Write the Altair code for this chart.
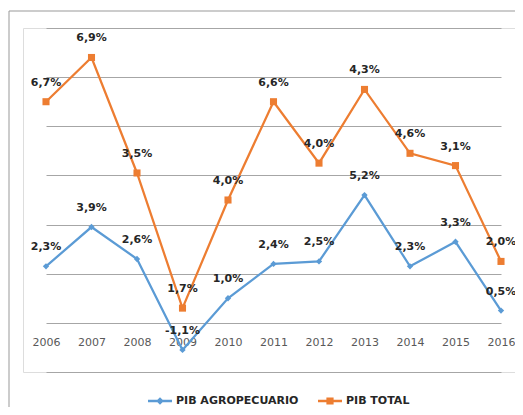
import altair as alt
import pandas as pd

years = ["2006", "2007", "2008", "2009", "2010", "2011", "2012", "2013", "2014", "2015", "2016"]
series = ["PIB AGROPECUARIO", "PIB TOTAL"]
# plotted positions (in %, grid step 2)
agro_values = [2.3, 3.9, 2.6, -1.1, 1.0, 2.4, 2.5, 5.2, 2.3, 3.3, 0.5]
total_values = [9.0, 10.8, 6.1, 0.6, 5.0, 9.0, 6.5, 9.5, 6.9, 6.4, 2.5]
# printed data labels
agro_labels = ["2,3%", "3,9%", "2,6%", "-1,1%", "1,0%", "2,4%", "2,5%", "5,2%", "2,3%", "3,3%", "0,5%"]
total_labels = ["6,7%", "6,9%", "3,5%", "1,7%", "4,0%", "6,6%", "4,0%", "4,3%", "4,6%", "3,1%", "2,0%"]
colors = ["#5B9BD5", "#ED7D31"]

df = pd.concat([
    pd.DataFrame({"year": years, "value": agro_values, "label": agro_labels, "serie": series[0]}),
    pd.DataFrame({"year": years, "value": total_values, "label": total_labels, "serie": series[1]}),
], ignore_index=True)

FONT = "DejaVu Sans"

x_enc = alt.X("year:O", title=None,
              scale=alt.Scale(type="point", range=[23, 478], padding=0),
              axis=alt.Axis(domain=False, ticks=False, tickSize=0,
                            grid=False, labelPadding=0, offset=-36, labelAngle=0,
                            labelFont=FONT, labelFontSize=11, labelColor="#595959"))
y_enc = alt.Y("value:Q", title=None,
              scale=alt.Scale(domain=[-2, 12], nice=False, zero=False),
              axis=alt.Axis(values=list(range(-2, 13, 2)), labels=False, ticks=False, domain=False,
                            grid=True, gridColor="#A6A6A6", gridWidth=1))
color_scale = alt.Scale(domain=series, range=colors)

base = alt.Chart(df)

sym_agro = "M-1,-0.1H1V0.1H-1Z M0,-0.32L0.32,0L0,0.32L-0.32,0Z"
sym_total = "M-1,-0.1H1V0.1H-1Z M-0.3,-0.3H0.3V0.3H-0.3Z"
leg = alt.Legend(title=None, orient="none", legendX=125, legendY=361,
                 direction="horizontal", labelFont=FONT, labelFontSize=11,
                 labelFontWeight="bold", labelColor="#262626",
                 symbolSize=576, symbolStrokeWidth=0, columnPadding=19,
                 labelOffset=4, padding=0)

legend_layer = base.transform_filter("false").mark_point(filled=True, opacity=1).encode(
    x=x_enc, y=y_enc,
    color=alt.Color("serie:N", scale=color_scale, legend=leg),
    shape=alt.Shape("serie:N", scale=alt.Scale(domain=series, range=[sym_agro, sym_total]), legend=leg),
)

lines = base.mark_line(strokeWidth=2.25).encode(
    x=x_enc, y=y_enc,
    color=alt.Color("serie:N", scale=color_scale),
    order=alt.Order("year:O"),
)

agro_pts = base.transform_filter(alt.datum.serie == series[0]).mark_point(
    shape="diamond", filled=True, size=40, opacity=1).encode(
    x=x_enc, y=y_enc, color=alt.Color("serie:N", scale=color_scale))

total_pts = base.transform_filter(alt.datum.serie == series[1]).mark_point(
    shape="square", filled=True, size=50, opacity=1).encode(
    x=x_enc, y=y_enc, color=alt.Color("serie:N", scale=color_scale))

labels = base.mark_text(font=FONT, fontSize=11, fontWeight="bold", color="#262626",
                        dy=-19, baseline="middle").encode(x=x_enc, y=y_enc, text="label:N")

one = pd.DataFrame({"a": [0]})
border_left = alt.Chart(one).mark_rule(color="#999999", strokeWidth=1).encode(
    x=alt.value(-14), y=alt.value(-17), y2=alt.value(379))
border_top = alt.Chart(one).mark_rule(color="#999999", strokeWidth=1).encode(
    x=alt.value(-14), x2=alt.value(492), y=alt.value(-17))

chart = alt.layer(legend_layer, border_left, border_top, lines, agro_pts, total_pts, labels).properties(
    width=492, height=344,
    autosize=alt.AutoSizeParams(type="none"),
    padding={"left": 15, "top": 20, "right": 0, "bottom": 35},
).configure_view(strokeWidth=0, strokeOpacity=0).configure_axis(
    domain=False, domainOpacity=0, ticks=False
).configure(background="white")

chart.save("out.html", embed_options={"renderer": "svg", "actions": False})
